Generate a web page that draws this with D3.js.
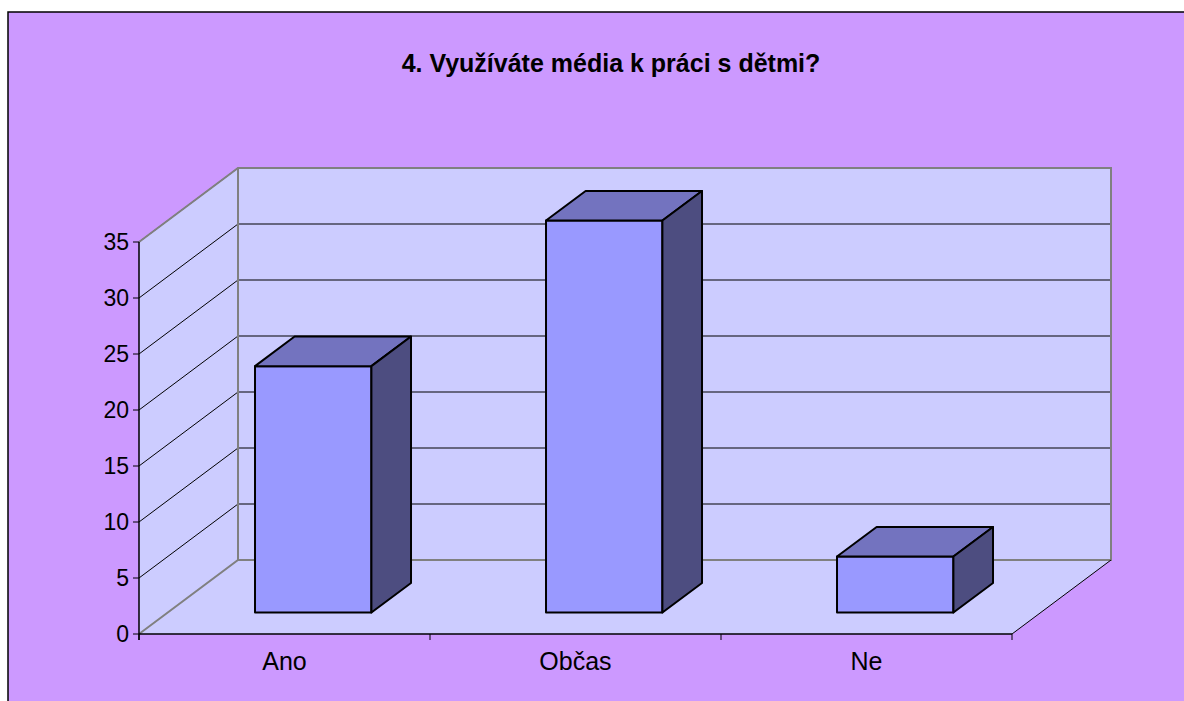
<!DOCTYPE html>
<html lang="cs">
<head>
    <meta charset="UTF-8">
    <title>4. Využíváte média k práci s dětmi?</title>
    <script src="https://d3js.org/d3.v7.min.js"></script>
    <style>
        body {
            margin: 0;
            padding: 0;
            background: #fff;
            font-family: Arial, "Liberation Sans", sans-serif;
        }
        svg {
            display: block;
        }
    </style>
</head>
<body>
    <div id="chart"></div>

    <script>
        const categories = ["Ano", "Občas", "Ne"];
        const values = [22, 35, 5];
        const yTicks = [0, 5, 10, 15, 20, 25, 30, 35];
        const title = "4. Využíváte média k práci s dětmi?";

        const width = 1184;
        const height = 701;

        // plocha grafu (predni rovina) a hloubka 3D
        const x0 = 139, x1 = 1012;
        const depthX = 99, depthY = -74;
        const barFront = 0.29, barBack = 0.69;

        const svg = d3.select("#chart")
            .append("svg")
            .attr("width", width)
            .attr("height", height);

        svg.append("rect")
            .attr("x", 8)
            .attr("y", 12)
            .attr("width", width + 20)
            .attr("height", height)
            .attr("fill", "#CC99FF")
            .attr("stroke", "#000")
            .attr("stroke-width", 1.5);

        svg.append("text")
            .attr("x", 611)
            .attr("y", 72)
            .attr("text-anchor", "middle")
            .attr("font-size", 25)
            .attr("font-weight", "bold")
            .attr("fill", "#000")
            .text(title);

        const y = d3.scaleLinear()
            .domain([0, 35])
            .range([634, 242]);

        const slot = d3.scaleBand()
            .domain(categories)
            .range([x0, x1]);

        const xBar = d3.scaleBand()
            .domain(categories)
            .range([x0, x1])
            .paddingInner(0.6)
            .paddingOuter(0.3);

        const shift = (p, f) => [p[0] + depthX * f, p[1] + depthY * f];
        const line = d3.line();

        // steny
        const yTop = y(35), yBot = y(0);
        svg.append("path")
            .attr("d", line([[x0, yBot], [x0, yTop], shift([x0, yTop], 1), shift([x0, yBot], 1)]) + "Z")
            .attr("fill", "#CCCCFF")
            .attr("stroke", "none");

        svg.append("path")
            .attr("d", line([shift([x0, yTop], 1), shift([x1, yTop], 1), shift([x1, yBot], 1), shift([x0, yBot], 1)]) + "Z")
            .attr("fill", "#CCCCFF")
            .attr("stroke", "none");

        svg.append("path")
            .attr("d", line([[x0, yBot], [x1, yBot], shift([x1, yBot], 1), shift([x0, yBot], 1)]) + "Z")
            .attr("fill", "#CCCCFF")
            .attr("stroke", "none");

        // mrizka
        const grid = svg.append("g");
        yTicks.filter(v => v > 0).forEach(v => {
            grid.append("path")
                .attr("d", line([[x0, y(v)], shift([x0, y(v)], 1), shift([x1, y(v)], 1)]))
                .attr("fill", "none")
                .attr("stroke", "#000")
                .attr("stroke-width", 1);
        });

        // okraje sten
        svg.append("path")
            .attr("d", line([[x0, yTop], shift([x0, yTop], 1), shift([x1, yTop], 1), shift([x1, yBot], 1), shift([x0, yBot], 1), [x0, yBot]]))
            .attr("fill", "none")
            .attr("stroke", "#808080")
            .attr("stroke-width", 2);

        svg.append("path")
            .attr("d", line([shift([x0, yTop], 1), shift([x0, yBot], 1)]))
            .attr("fill", "none")
            .attr("stroke", "#808080")
            .attr("stroke-width", 2);

        svg.append("path")
            .attr("d", line([[x1, yBot], shift([x1, yBot], 1)]))
            .attr("fill", "none")
            .attr("stroke", "#000")
            .attr("stroke-width", 1);

        // sloupce
        const bars = svg.selectAll(".bar")
            .data(categories.map((c, i) => ({ cat: c, value: values[i] })))
            .enter().append("g")
            .attr("class", "bar");

        bars.each(function(d) {
            const g = d3.select(this);
            const l = xBar(d.cat), r = l + xBar.bandwidth();
            const t = y(d.value), b = y(0);
            const fl = shift([l, t], barFront), fr = shift([r, t], barFront);
            const flb = shift([l, b], barFront), frb = shift([r, b], barFront);
            const bl = shift([l, t], barBack), br = shift([r, t], barBack);
            const brb = shift([r, b], barBack);

            g.append("path")
                .attr("d", line([fl, fr, frb, flb]) + "Z")
                .attr("fill", "#9999FF");
            g.append("path")
                .attr("d", line([fl, bl, br, fr]) + "Z")
                .attr("fill", "#7373BF");
            g.append("path")
                .attr("d", line([fr, br, brb, frb]) + "Z")
                .attr("fill", "#4D4D80");
            g.selectAll("path")
                .attr("stroke", "#000")
                .attr("stroke-width", 2)
                .attr("stroke-linejoin", "round");
        });

        // osa y
        const yAxis = svg.append("g");
        yAxis.append("line")
            .attr("x1", x0).attr("x2", x0)
            .attr("y1", yTop).attr("y2", yBot + 6)
            .attr("stroke", "#000")
            .attr("stroke-width", 1.5);
        yAxis.selectAll(".tick")
            .data(yTicks)
            .enter().append("line")
            .attr("x1", x0 - 6).attr("x2", x0)
            .attr("y1", d => y(d)).attr("y2", d => y(d))
            .attr("stroke", "#000");
        yAxis.selectAll(".lbl")
            .data(yTicks)
            .enter().append("text")
            .attr("x", 129)
            .attr("y", d => y(d))
            .attr("dy", "0.36em")
            .attr("text-anchor", "end")
            .attr("font-size", 23)
            .attr("fill", "#000")
            .text(d => d);

        // osa x
        const xAxis = svg.append("g");
        xAxis.append("line")
            .attr("x1", x0).attr("x2", x1)
            .attr("y1", yBot).attr("y2", yBot)
            .attr("stroke", "#000")
            .attr("stroke-width", 1.5);
        xAxis.selectAll(".tick")
            .data(categories.map(c => slot(c)).concat([x1]))
            .enter().append("line")
            .attr("x1", d => d).attr("x2", d => d)
            .attr("y1", yBot).attr("y2", yBot + 6)
            .attr("stroke", "#000");
        xAxis.selectAll(".lbl")
            .data(categories)
            .enter().append("text")
            .attr("x", d => slot(d) + slot.bandwidth() / 2)
            .attr("y", 670)
            .attr("text-anchor", "middle")
            .attr("font-size", 25)
            .attr("fill", "#000")
            .text(d => d);
    </script>
</body>
</html>
